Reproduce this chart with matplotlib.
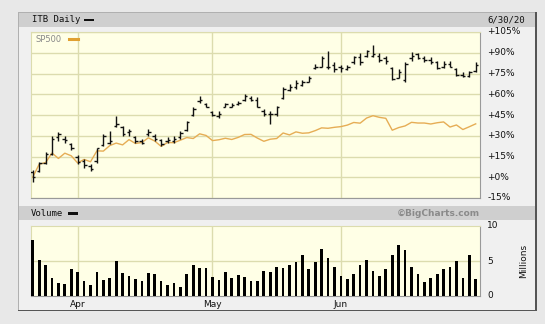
import matplotlib
matplotlib.use("Agg")
import matplotlib.pyplot as plt
from matplotlib.patches import Rectangle
import numpy as np

# ---------------- data (percent change vs first close) ----------------
itb_open = [4, 4.5, 10, 17, 29, 28, 24, 15, 12, 8, 12, 23, 25, 37, 36, 33, 29, 26, 31, 30,
            27, 26, 26, 29, 34, 45, 55, 53, 47, 44, 51, 51, 53, 56, 57, 56, 48, 46, 46, 57,
            63, 65, 67, 69, 79, 80, 80, 81, 80, 78, 83, 87, 88, 88, 88, 86, 79, 72, 70, 86,
            89, 86, 85, 83, 80, 82, 78, 74, 73, 77]
itb_high = [5, 11, 18, 30, 32.5, 29.5, 25, 16, 13, 9.5, 21.5, 31, 33.7, 44.6, 37, 35, 30, 27.7, 35, 31,
            27.7, 29, 30, 33.7, 41, 50.6, 59, 54, 48, 48, 54, 53.5, 55, 60, 59, 58, 49.4, 48, 51.8, 65,
            67.5, 70, 70, 73.5, 81.8, 88, 91, 83, 81, 81, 88, 89.5, 92, 95.5, 89.5, 88, 80, 78.6, 83, 90.5,
            90, 88, 87, 84, 84, 84, 79, 76, 77, 83]
itb_low = [-3.3, 4, 9.5, 16, 26.5, 25, 19.5, 9.5, 7, 4.5, 10.5, 22.5, 24, 36, 30, 30, 25, 24, 30, 26.5,
           22.8, 25, 25, 27.7, 33.7, 44.6, 54, 50.6, 44.6, 43, 50.6, 50.6, 52, 55.4, 55, 50.6, 44.6, 38.5, 44.6, 56.6,
           62.7, 64, 66.3, 68.6, 78.3, 79.6, 78.6, 76, 76, 77.4, 82, 81.5, 87, 87, 83.5, 82, 70, 71.4, 69, 84,
           85.5, 83, 82, 78, 79, 79.5, 73.5, 72.5, 72.5, 76]
itb_close = [0, 10, 17, 28, 31, 27, 21, 11, 9, 6, 21, 30, 26, 38.5, 31, 33.7, 26, 25, 33, 28,
             24, 27, 28, 32, 40, 49, 56, 51, 45, 46, 53, 52, 54, 59, 56, 51, 46, 46, 51, 64,
             65, 68, 69, 72, 80, 86, 80, 78, 79, 80, 87, 83, 91, 89, 85, 84, 71, 76, 82, 88,
             86.5, 85, 83, 79, 82, 80, 74, 73.5, 76, 81]
sp500 = [0.0, 9.4, 10.6, 17.5, 13.6, 17.4, 15.5, 10.3, 12.9, 11.2, 19.1, 18.9, 22.9, 24.7, 23.4, 27.2,
         24.4, 25.1, 28.5, 26.2, 22.3, 25.1, 25.0, 26.8, 28.7, 28.0, 31.4, 30.2, 26.5, 27.1, 28.2, 27.3,
         28.8, 30.9, 31.0, 28.3, 26.0, 27.5, 28.0, 32.0, 30.6, 32.8, 31.8, 32.1, 33.7, 35.7, 35.4, 36.1,
         36.6, 37.7, 39.6, 39.1, 42.8, 44.5, 43.3, 42.6, 34.0, 35.9, 37.1, 39.7, 39.2, 39.2, 38.5, 39.4,
         40.0, 36.3, 37.8, 34.5, 36.5, 38.6]
volume = [8.05, 5.2, 4.5, 2.6, 1.86, 1.7, 3.9, 3.5, 2.1, 1.6, 3.5, 2.3, 2.6, 4.95, 3.3, 2.9, 2.4, 2.1,
          3.3, 3.1, 2.1, 1.6, 1.86, 1.33, 3.1, 4.5, 4.05, 4.05, 2.76, 2.24, 3.5, 2.6, 3.0, 2.76, 2.14,
          2.14, 3.6, 3.4, 4.2, 4.0, 4.4, 4.8, 5.9, 3.9, 4.8, 6.7, 5.5, 4.2, 2.9, 2.5, 3.2, 4.4, 5.2,
          3.6, 2.9, 3.9, 5.9, 7.3, 6.6, 4.1, 3.1, 2.0, 2.6, 3.1, 3.8, 4.1, 5.0, 2.6, 5.9, 2.5]
month_labels = ["Apr", "May", "Jun"]
month_index = [7, 28, 48]
price_ticks = [105, 90, 75, 60, 45, 30, 15, 0, -15]
price_tick_labels = ["+105%", "+90%", "+75%", "+60%", "+45%", "+30%", "+15%", "+0%", "-15%"]
vol_ticks = [10, 5, 0]
vol_tick_labels = ["10", "5", "0"]

W, H = 545, 324
fig = plt.figure(figsize=(W / 100, H / 100), dpi=100)
fig.patch.set_facecolor("#e8e8e8")

def rect(x0, y0, x1, y1):
    return [x0 / W, 1 - y1 / H, (x1 - x0) / W, (y1 - y0) / H]

def frect(x0, y0, x1, y1, z=-5, **kw):
    fig.patches.append(Rectangle((x0 / W, 1 - y1 / H), (x1 - x0) / W, (y1 - y0) / H,
                                 transform=fig.transFigure, zorder=z, **kw))

# panel
frect(18, 12, 537, 311, facecolor="#f0f0f0", edgecolor="none", z=-10)
frect(18, 12, 537, 12.8, facecolor="#b0b0b0", edgecolor="none")
frect(18, 12, 18.8, 311, facecolor="#b0b0b0", edgecolor="none")
frect(535, 12, 537, 311, facecolor="#555555", edgecolor="none")
frect(18, 309.5, 537, 311, facecolor="#555555", edgecolor="none")
# header bars
frect(19, 13, 535, 27, facecolor="#cfcfcf", edgecolor="none")
frect(19, 206, 535, 220, facecolor="#cfcfcf", edgecolor="none")
frect(84, 18.8, 94, 21.2, facecolor="#111111", edgecolor="none", z=-4)
frect(68, 212.3, 78, 214.7, facecolor="#111111", edgecolor="none", z=-4)

fig.text(32 / W, 1 - 20 / H, "ITB Daily", fontsize=6.5, family="DejaVu Sans Mono",
         va="center", ha="left", color="#111111")
fig.text(487 / W, 1 - 20 / H, "6/30/20", fontsize=6.5, family="DejaVu Sans Mono",
         va="center", ha="left", color="#111111")
fig.text(31 / W, 1 - 213.5 / H, "Volume", fontsize=6.5, family="DejaVu Sans Mono",
         va="center", ha="left", color="#111111")
fig.text(480 / W, 1 - 213.5 / H, "\u00a9BigCharts.com", fontsize=6.5, fontweight="bold",
         va="center", ha="right", color="#8a8a8a")

x = np.arange(len(itb_close))
xlim = (-0.27, len(itb_close) - 0.33)
grid_c = "#dcdcae"
bg_c = "#ffffe6"

# ---------------- price axes ----------------
ax = fig.add_axes(rect(31, 32, 480, 198))
ax.set_zorder(5)
ax.set_facecolor(bg_c)
ax.set_xlim(*xlim)
ax.set_ylim(-15, 105)
for t in price_ticks:
    ax.axhline(t, color=grid_c, lw=1, zorder=0)
for m in month_index:
    ax.axvline(m, color=grid_c, lw=1, zorder=0)
ax.plot(x, sp500, color="#e6ad55", lw=1.0, zorder=2)
ax.vlines(x, itb_low, itb_high, color="#111111", lw=1.0, zorder=3)
d = 0.38
ax.hlines(itb_open, x - d, x, color="#111111", lw=1.0, zorder=3)
ax.hlines(itb_close, x, x + d, color="#111111", lw=1.0, zorder=3)
ax.set_xticks([])
ax.set_yticks([])
for t, lab in zip(price_ticks, price_tick_labels):
    ax.text(1.016, t, lab, transform=ax.get_yaxis_transform(), fontsize=6.5,
            color="#111111", va="center", ha="left", clip_on=False)
for s in ["top", "left"]:
    ax.spines[s].set_color(grid_c)
for s in ["right", "bottom"]:
    ax.spines[s].set_color("#999999")
ax.text(0.01, 0.955, "SP500", transform=ax.transAxes, fontsize=6, color="#888888",
        va="center", ha="left")
ax.plot([0.085, 0.105], [0.955, 0.955], transform=ax.transAxes, color="#e0a030", lw=2.2)

# ---------------- volume axes ----------------
av = fig.add_axes(rect(31, 226, 480, 296))
av.set_zorder(5)
av.set_facecolor(bg_c)
av.set_xlim(*xlim)
av.set_ylim(0, 10)
av.axhline(5, color=grid_c, lw=1, zorder=0)
for m in month_index:
    av.axvline(m, color=grid_c, lw=1, zorder=0)
av.bar(x, volume, width=0.42, color="#000000", zorder=3)
av.set_yticks([])
for t, lab in zip(vol_ticks, vol_tick_labels):
    av.text(1.016, t, lab, transform=av.get_yaxis_transform(), fontsize=6.5,
            color="#111111", va="center", ha="left", clip_on=False)
av.set_xticks(month_index)
av.set_xticklabels(month_labels)
av.tick_params(axis="x", length=0, pad=3, labelsize=6.5, labelcolor="#111111")
for s in ["top", "left"]:
    av.spines[s].set_color(grid_c)
for s in ["right", "bottom"]:
    av.spines[s].set_color("#999999")
fig.text(524 / W, 1 - 261 / H, "Millions", rotation=90, fontsize=6.5, va="center",
         ha="center", color="#111111")

fig.savefig("out.png", dpi=100, facecolor=fig.get_facecolor())
